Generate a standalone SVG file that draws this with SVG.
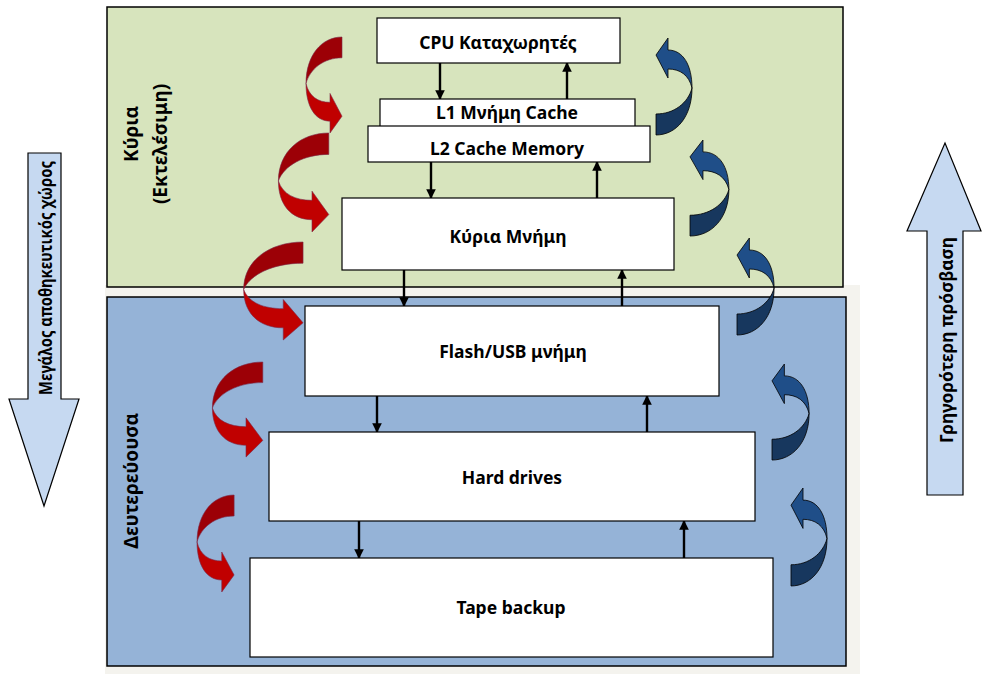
<svg xmlns="http://www.w3.org/2000/svg" xmlns:xlink="http://www.w3.org/1999/xlink" width="990" height="674" viewBox="0 0 990 674">
<style>
.box{fill:#ffffff;stroke:#000;stroke-width:1.2}
.lbl{font-family:"Noto Sans","Liberation Sans",sans-serif;font-weight:700;font-size:17.5px;fill:#000;text-anchor:middle;dominant-baseline:central}
.vl{font-family:"Noto Sans","Liberation Sans",sans-serif;font-weight:700;font-size:19px;fill:#000;text-anchor:middle;dominant-baseline:central}
.sl{font-family:"Noto Sans","Liberation Sans",sans-serif;font-weight:700;font-size:18.5px;fill:#000;text-anchor:middle;dominant-baseline:central}
.conn{stroke:#000;stroke-width:2.4;fill:none;marker-end:url(#ah)}
.big{fill:#c6d9f1;stroke:#000;stroke-width:1.2}
</style>
<defs>
<marker id="ah" viewBox="0 0 10 10" refX="9" refY="5" markerWidth="4" markerHeight="4" orient="auto" markerUnits="strokeWidth">
<path d="M0,0 L10,5 L0,10 Z" fill="#000"/>
</marker>
<g id="red">
<path d="M37,0 C17,0 1,18 1,47 C5,32 19,21 37,21 Z" fill="#9c0006" stroke="#7a2a4a" stroke-width="0.6" vector-effect="non-scaling-stroke"/>
<path d="M1,47 C4,60 13,66 25,66 L25,57 L37,80 L25,97 L25,85 C10,85 1,70 1,47 Z" fill="#c00000" stroke="#7a2a4a" stroke-width="0.6" vector-effect="non-scaling-stroke"/>
</g>
<g id="blue">
<path d="M0,97 C20,97 36,79 36,50 C32,65 18,76 0,76 Z" fill="#17375e" stroke="#000" stroke-width="0.8" vector-effect="non-scaling-stroke"/>
<path d="M36,50 C33,37 24,31 12,31 L12,40 L0,17 L12,0 L12,12 C27,12 36,27 36,50 Z" fill="#1f4e88" stroke="#000" stroke-width="0.8" vector-effect="non-scaling-stroke"/>
</g>
</defs>
<rect x="0" y="0" width="990" height="674" fill="#ffffff"/>
<rect x="105" y="285" width="755" height="389" fill="#f4f3ee"/>

<g id="panel-primary">
<rect x="107" y="7" width="736" height="280" fill="#d7e4bd" stroke="#000" stroke-width="1.5"/>
<text class="vl" transform="translate(131,134) rotate(-90)" font-size="20">Κύρια</text>
<text class="vl" transform="translate(160,144) rotate(-90)">(Εκτελέσιμη)</text>
</g>
<g id="panel-secondary">
<rect x="107" y="297" width="739" height="369" fill="#95b3d7" stroke="#000" stroke-width="1.5"/>
<text class="vl" transform="translate(131,481) rotate(-90)">Δευτερεύουσα</text>
</g>

<g id="arrow-capacity">
<path class="big" d="M28,153 L61,153 L61,399 L79,399 L44,506 L9,399 L28,399 Z"/>
<text class="sl" transform="translate(44,278) rotate(-90)" textLength="234" lengthAdjust="spacingAndGlyphs">Μεγάλος αποθηκευτικός χώρος</text>
</g>
<g id="arrow-speed">
<path class="big" d="M927,495 L963,495 L963,231 L981,231 L945,143 L907,231 L927,231 Z"/>
<text class="sl" transform="translate(945,340) rotate(-90)" textLength="206" lengthAdjust="spacingAndGlyphs">Γρηγορότερη πρόσβαση</text>
</g>

<g id="curved-arrows">
<use xlink:href="#red" transform="translate(305,37) scale(1,0.99)"/>
<use xlink:href="#red" transform="translate(277,133) scale(1.4,1.02)"/>
<use xlink:href="#red" transform="translate(242,242) scale(1.65,1.01)"/>
<use xlink:href="#red" transform="translate(211,362) scale(1.4,0.98)"/>
<use xlink:href="#red" transform="translate(196,495) scale(1.03,1)"/>
<use xlink:href="#blue" transform="translate(656,38) scale(1,1)"/>
<use xlink:href="#blue" transform="translate(690,140) scale(1.08,0.99)"/>
<use xlink:href="#blue" transform="translate(737,238) scale(1.03,1)"/>
<use xlink:href="#blue" transform="translate(772,364) scale(1.03,0.99)"/>
<use xlink:href="#blue" transform="translate(791,488) scale(1,1.01)"/>
</g>

<g id="connectors">
<line class="conn" x1="440" y1="63" x2="440" y2="99"/>
<line class="conn" x1="567" y1="99" x2="567" y2="63"/>
<line class="conn" x1="431" y1="162" x2="431" y2="198"/>
<line class="conn" x1="597" y1="198" x2="597" y2="162"/>
<line class="conn" x1="404" y1="270" x2="404" y2="306"/>
<line class="conn" x1="622" y1="306" x2="622" y2="270"/>
<line class="conn" x1="377" y1="396" x2="377" y2="432"/>
<line class="conn" x1="647" y1="432" x2="647" y2="396"/>
<line class="conn" x1="359" y1="521" x2="359" y2="558"/>
<line class="conn" x1="684" y1="558" x2="684" y2="521"/>
</g>

<g id="node-cpu">
<rect class="box" x="377" y="18" width="243" height="45"/>
<text class="lbl" x="498" y="42">CPU Καταχωρητές</text>
</g>
<g id="node-l1">
<rect class="box" x="380" y="99" width="255" height="28"/>
<text class="lbl" x="507" y="112">L1 Μνήμη Cache</text>
</g>
<g id="node-l2">
<rect class="box" x="368" y="126" width="282" height="36"/>
<text class="lbl" x="507" y="148">L2 Cache Memory</text>
</g>
<g id="node-main">
<rect class="box" x="342" y="198" width="332" height="72"/>
<text class="lbl" x="508" y="236">Κύρια Μνήμη</text>
</g>
<g id="node-flash">
<rect class="box" x="305" y="306" width="414" height="90"/>
<text class="lbl" x="513" y="351">Flash/USB μνήμη</text>
</g>
<g id="node-hdd">
<rect class="box" x="269" y="432" width="486" height="89"/>
<text class="lbl" x="512" y="477">Hard drives</text>
</g>
<g id="node-tape">
<rect class="box" x="250" y="558" width="523" height="99"/>
<text class="lbl" x="511" y="607">Tape backup</text>
</g>
</svg>
